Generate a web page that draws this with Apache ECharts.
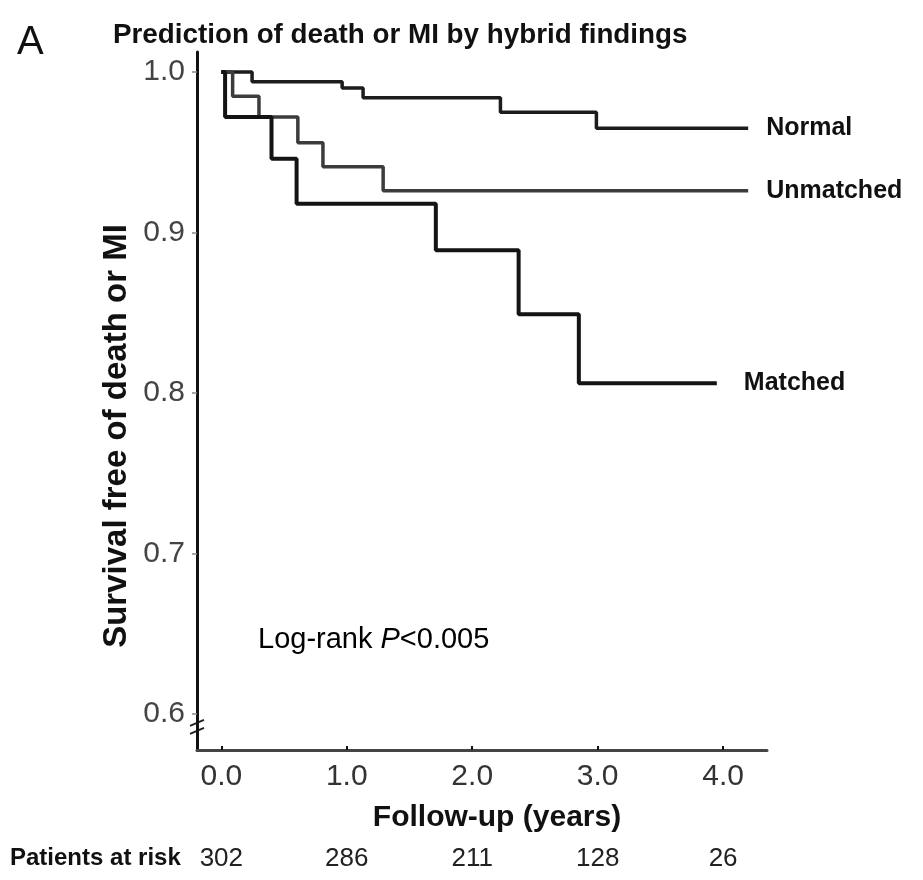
<!DOCTYPE html>
<html>
<head>
<meta charset="utf-8">
<script src="https://cdn.jsdelivr.net/npm/echarts@6/dist/echarts.min.js"></script>
<style>html,body{margin:0;padding:0;background:#fff}#c{width:923px;height:880px}</style>
</head>
<body>
<div id="c"></div>
<script>
// Data
const normalT = [0, 0.245, 0.963, 1.13, 2.225, 2.99, 4.2];
const normalS = [1.0, 0.994, 0.990, 0.984, 0.975, 0.965, 0.965];
const unmatchedT = [0, 0.09, 0.30, 0.61, 0.81, 1.29, 4.2];
const unmatchedS = [1.0, 0.985, 0.972, 0.956, 0.941, 0.926, 0.926];
const matchedT = [0, 0.03, 0.40, 0.60, 1.71, 2.37, 2.85, 3.95];
const matchedS = [1.0, 0.972, 0.946, 0.918, 0.889, 0.849, 0.806, 0.806];
const xTicks = [0, 1, 2, 3, 4];
const yTicks = [0.6, 0.7, 0.8, 0.9, 1.0];
const atRisk = [302, 286, 211, 128, 26];
const groupNames = ['Normal', 'Unmatched', 'Matched'];

const NF = '"Liberation Sans", Arial, sans-serif';
const BF = '"Liberation Sans", Arial, sans-serif';

function pts(t, s) { return t.map((v, i) => [v, s[i]]); }

const chart = echarts.init(document.getElementById('c'), null, {renderer: 'canvas'});
const XMIN = -0.194, XMAX = 4.35, YMIN = 0.5775, YMAX = 1.0125;

function mk(name, t, s, color, width, dist) {
  return {
    name: name, type: 'line', step: 'end', xAxisIndex: 0, yAxisIndex: 0,
    data: pts(t, s), symbol: 'none', silent: true,
    lineStyle: {color: color, width: width},
    endLabel: {show: true, formatter: name, distance: dist,
      fontFamily: BF, fontWeight: 'bold', fontSize: 25, color: '#111'}
  };
}

chart.setOption({
  animation: false,
  title: {text: 'Prediction of death or MI by hybrid findings', left: 108, top: 16,
    textStyle: {fontFamily: BF, fontWeight: 'bold', fontSize: 27.8, color: '#111'}},
  grid: {left: 197, right: 156, top: 52, bottom: 130, containLabel: false},
  xAxis: [{
    type: 'value', min: XMIN, max: XMAX,
    axisLine: {show: true, onZero: false, lineStyle: {color: '#444', width: 3}},
    axisTick: {show: true, inside: true, length: 4, customValues: xTicks, lineStyle: {color: '#111', width: 2}},
    axisLabel: {customValues: xTicks, formatter: v => v.toFixed(1), margin: 12,
      fontFamily: NF, fontSize: 30, color: '#333'},
    splitLine: {show: false}
  }, {
    type: 'value', min: XMIN, max: XMAX, position: 'bottom', offset: 96,
    axisLine: {show: false}, axisTick: {show: false}, splitLine: {show: false},
    axisLabel: {customValues: xTicks, formatter: v => String(atRisk[xTicks.indexOf(Math.round(v))]),
      margin: 0, fontFamily: NF, fontSize: 26, color: '#222'}
  }],
  yAxis: {
    type: 'value', min: YMIN, max: YMAX,
    axisLine: {show: true, onZero: false, lineStyle: {color: '#111', width: 3}},
    axisTick: {show: true, length: 5, customValues: yTicks, lineStyle: {color: '#888', width: 1.5}},
    axisLabel: {customValues: yTicks, formatter: v => v.toFixed(1), margin: 12,
      fontFamily: NF, fontSize: 30, color: '#444'},
    splitLine: {show: false}
  },
  series: [
    mk(groupNames[0], normalT, normalS, '#1c1c1c', 3.5, 18),
    mk(groupNames[1], unmatchedT, unmatchedS, '#3c3c3c', 3.5, 18),
    mk(groupNames[2], matchedT, matchedS, '#141414', 4, 27)
  ]
});

const b0 = chart.convertToPixel({xAxisIndex: 0, yAxisIndex: 0}, [XMIN, 0.5944]);
const b1 = chart.convertToPixel({xAxisIndex: 0, yAxisIndex: 0}, [XMIN, 0.5894]);
chart.setOption({
  graphic: [
    {type: 'text', left: 17, top: 23, style: {text: 'A', font: '40px ' + BF, fill: '#111'}},
    {type: 'rect', shape: {x: b0[0] - 3, y: b0[1] + 1, width: 6, height: b1[1] - b0[1] - 2}, style: {fill: '#fff'}},
    {type: 'line', shape: {x1: b0[0] - 7, y1: b0[1] + 3, x2: b0[0] + 7, y2: b0[1] - 3}, style: {stroke: '#222', lineWidth: 2}},
    {type: 'line', shape: {x1: b1[0] - 7, y1: b1[1] + 3, x2: b1[0] + 7, y2: b1[1] - 3}, style: {stroke: '#222', lineWidth: 2}},
    {type: 'text', x: 117, y: 436, rotation: Math.PI / 2, style: {text: 'Survival free of death or MI',
      font: 'bold 33px ' + BF, fill: '#111', align: 'center', verticalAlign: 'middle'}},
    {type: 'text', x: 497, y: 818, style: {text: 'Follow-up (years)',
      font: 'bold 30px ' + BF, fill: '#111', align: 'center', verticalAlign: 'middle'}},
    {type: 'text', x: 10, y: 858, style: {text: 'Patients at risk',
      font: 'bold 24px ' + BF, fill: '#111', align: 'left', verticalAlign: 'middle'}},
    {type: 'text', x: 258, y: 640, style: {
      rich: {n: {fontFamily: NF, fontSize: 29, color: '#333'}, i: {fontFamily: NF, fontSize: 29, fontStyle: 'italic', color: '#333'}},
      text: '{n|Log-rank }{i|P}{n|<0.005}', verticalAlign: 'middle'}}
  ]
});
</script>
</body>
</html>
